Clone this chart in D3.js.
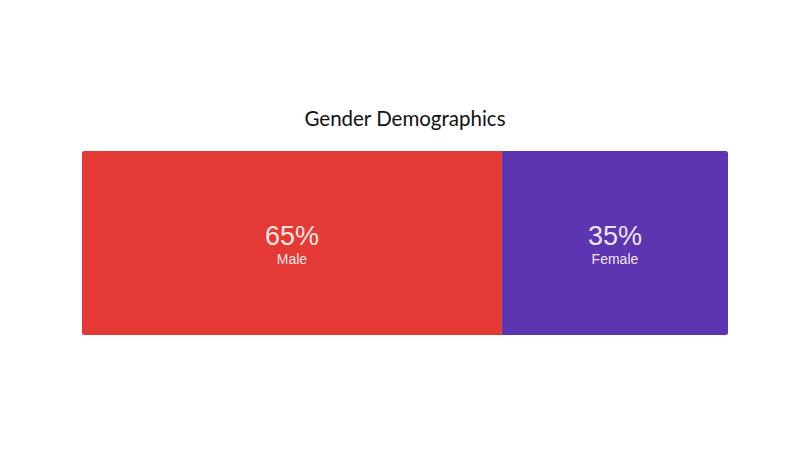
<!DOCTYPE html>
<html><head><meta charset="utf-8">
<script src="https://cdn.jsdelivr.net/npm/d3@7"></script>
<style>body{margin:0;background:#fff;}</style>
</head><body>
<svg id="c" width="800" height="450"></svg>
<script>
const categories = ["Male", "Female"];
const values = [65, 35];
const colors = ["#E53935", "#5E35B1"];
const title = "Gender Demographics";

const svg = d3.select("#c");
const x0 = 82, x1 = 728, y0 = 151, h = 184;
const x = d3.scaleLinear().domain([0, 100]).range([x0, x1]);

let cum = 0;
const segs = values.map((v, i) => { const s = {cat: categories[i], v, start: cum, color: colors[i]}; cum += v; return s; });

svg.append("text").attr("x", 405).attr("y", 126).attr("text-anchor", "middle")
  .style("font-family", "Lato, 'Open Sans', sans-serif").style("font-size", "20.5px").style("fill", "#111")
  .text(title);

const clipId = "rclip";
svg.append("clipPath").attr("id", clipId).append("rect")
  .attr("x", x0).attr("y", y0).attr("width", x1 - x0).attr("height", h).attr("rx", 2.5);

const g = svg.append("g").attr("clip-path", `url(#${clipId})`);
g.selectAll("rect").data(segs).join("rect")
  .attr("x", d => x(d.start)).attr("y", y0)
  .attr("width", d => x(d.start + d.v) - x(d.start)).attr("height", h)
  .attr("fill", d => d.color);

const lab = svg.selectAll("g.lab").data(segs).join("g").attr("class", "lab")
  .attr("transform", d => `translate(${(x(d.start) + x(d.start + d.v)) / 2},0)`);
lab.append("text").attr("y", 245).attr("text-anchor", "middle")
  .style("font-family", "'Liberation Sans', Arial, sans-serif").style("font-size", "27px")
  .style("fill", "rgba(255,255,255,0.9)").text(d => d.v + "%");
lab.append("text").attr("y", 264).attr("text-anchor", "middle")
  .style("font-family", "'Liberation Sans', Arial, sans-serif").style("font-size", "14px")
  .style("fill", "rgba(255,255,255,0.9)").text(d => d.cat);
</script>
</body></html>
